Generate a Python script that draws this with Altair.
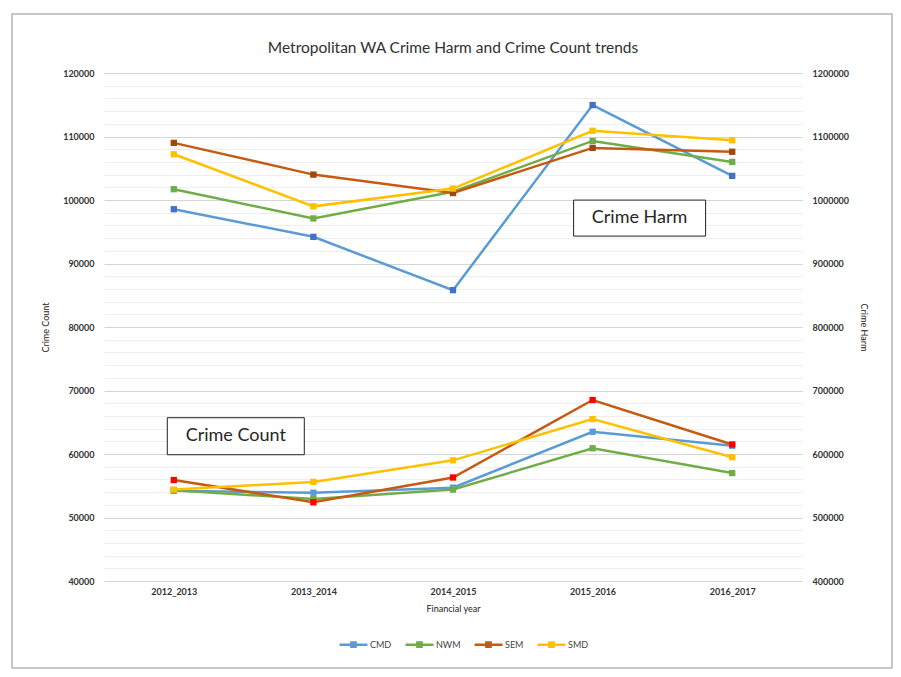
import altair as alt
import pandas as pd

years = ["2012_2013", "2013_2014", "2014_2015", "2015_2016", "2016_2017"]
regions = ["CMD", "NWM", "SEM", "SMD"]

count_cmd = [54200, 53900, 54700, 63500, 61300]
count_nwm = [54300, 52900, 54400, 60900, 57000]
count_sem = [55900, 52400, 56300, 68500, 61500]
count_smd = [54400, 55600, 59000, 65500, 59500]

harm_cmd = [985500, 942000, 858000, 1149500, 1038000]
harm_nwm = [1017000, 971000, 1013000, 1093000, 1060000]
harm_sem = [1090000, 1040000, 1011000, 1082000, 1076000]
harm_smd = [1072000, 990000, 1018000, 1109000, 1094000]

line_colors = ["#5B9BD5", "#70AD47", "#C55A11", "#FFC000"]
count_marker_colors = ["#5B9BD5", "#70AD47", "#FF0000", "#FFC000"]
harm_marker_colors = ["#4472C4", "#70AD47", "#9E480E", "#FFC000"]

count_series = [count_cmd, count_nwm, count_sem, count_smd]
harm_series = [harm_cmd, harm_nwm, harm_sem, harm_smd]

rows_c, rows_h = [], []
for i, r in enumerate(regions):
    for j, y in enumerate(years):
        rows_c.append({"year": y, "region": r, "count": count_series[i][j], "mcolor": count_marker_colors[i]})
        rows_h.append({"year": y, "region": r, "harm": harm_series[i][j], "mcolor": harm_marker_colors[i]})
df_c = pd.DataFrame(rows_c)
df_h = pd.DataFrame(rows_h)

FONT = "Lato"
xenc = alt.X("year:N", sort=years,
             scale=alt.Scale(type="point", padding=0.5),
             axis=alt.Axis(title="Financial year", labelAngle=0, ticks=False, domain=False,
                           labelFontSize=9, labelFont=FONT, labelColor="#333333", labelPadding=6,
                           labelFontWeight="bold",
                           titleFontSize=9, titleFont=FONT, titleFontWeight="normal",
                           titleColor="#222222", titlePadding=8))

color = alt.Color("region:N", scale=alt.Scale(domain=regions, range=line_colors),
                  legend=alt.Legend(title=None, orient="none", legendX=234, legendY=556,
                                    direction="horizontal",
                                    symbolType="M-1,0H1M-0.15,-0.15H0.15V0.15H-0.15Z",
                                    symbolSize=780, symbolStrokeWidth=2.5,
                                    labelFontSize=9, labelFont=FONT, labelColor="#444444",
                                    labelOffset=1, columnPadding=8))

left_vals = list(range(40000, 120001, 2000))
yc = alt.Y("count:Q", scale=alt.Scale(domain=[40000, 120000], nice=False, zero=False),
           axis=alt.Axis(title="Crime Count", orient="left", values=left_vals, format="d",
                         labelExpr="datum.value % 10000 === 0 ? datum.label : ''",
                         ticks=False, domain=False, labelOverlap=False,
                         gridColor={"condition": {"test": "datum.value % 10000 === 0", "value": "#d4d4d4"},
                                    "value": "#eeeeee"},
                         gridWidth=1.2,
                         labelFontSize=9, labelFont=FONT, labelColor="#333333", labelPadding=10,
                         labelFontWeight="bold",
                         titleFontSize=9, titleFont=FONT, titleFontWeight="normal",
                         titleColor="#222222", titlePadding=12))
yh = alt.Y("harm:Q", scale=alt.Scale(domain=[400000, 1200000], nice=False, zero=False),
           axis=alt.Axis(title="Crime Harm", orient="right", values=list(range(400000, 1200001, 100000)),
                         format="d", ticks=False, domain=False, grid=False,
                         labelFontSize=9, labelFont=FONT, labelColor="#333333", labelPadding=10,
                         labelFontWeight="bold",
                         titleFontSize=9, titleFont=FONT, titleFontWeight="normal",
                         titleColor="#222222", titlePadding=10))

count_line = alt.Chart(df_c).mark_line(strokeWidth=2.5).encode(x=xenc, y=yc, color=color)
count_pts = alt.Chart(df_c).mark_square(size=40, opacity=1).encode(
    x=xenc, y=yc, fill=alt.Color("mcolor:N", scale=None), detail="region:N")

harm_line = alt.Chart(df_h).mark_line(strokeWidth=2.5).encode(x=xenc, y=yh, color=color)
harm_pts = alt.Chart(df_h).mark_square(size=40, opacity=1).encode(
    x=xenc, y=yh, fill=alt.Color("mcolor:N", scale=None), detail="region:N")

ann_c = pd.DataFrame({"label": ["Crime Count"], "year": ["2012_2013"], "count": [62800]})
ann_h = pd.DataFrame({"label": ["Crime Harm"], "year": ["2015_2016"], "harm": [971500]})

ann_c_box = alt.Chart(ann_c).mark_rect(width=137, height=37, xOffset=62, fill="white",
                                        stroke="#222222", strokeWidth=1).encode(x=xenc, y=yc)
ann_c_txt = alt.Chart(ann_c).mark_text(dx=62, fontSize=18, font=FONT, color="#262626").encode(
    x=xenc, y=yc, text="label:N")
ann_h_box = alt.Chart(ann_h).mark_rect(width=132, height=36, xOffset=47, fill="white",
                                        stroke="#222222", strokeWidth=1).encode(x=xenc, y=yh)
ann_h_txt = alt.Chart(ann_h).mark_text(dx=47, fontSize=18, font=FONT, color="#262626").encode(
    x=xenc, y=yh, text="label:N")

frame = alt.Chart(pd.DataFrame({"a": [0]})).mark_rect(fill=None, stroke="#b5b5b5", strokeWidth=1.5).encode(
    x=alt.value(-92), x2=alt.value(788), y=alt.value(-59), y2=alt.value(595))

count_layer = alt.layer(count_line, count_pts, ann_c_box, ann_c_txt)
harm_layer = alt.layer(harm_line, harm_pts, ann_h_box, ann_h_txt)

chart = alt.layer(frame, count_layer, harm_layer).resolve_scale(
    y="independent", fill="independent"
).properties(
    width=698, height=508,
    padding={"left": 96, "top": 65, "right": 91, "bottom": 88},
    autosize=alt.AutoSizeParams(type="none"),
    title=alt.TitleParams("Metropolitan WA Crime Harm and Crime Count trends",
                          fontSize=15.5, font=FONT, fontWeight="normal", color="#303030",
                          anchor="middle", offset=-43),
).configure_view(stroke=None)

chart.save("out.html", embed_options={"renderer": "svg", "actions": False})
